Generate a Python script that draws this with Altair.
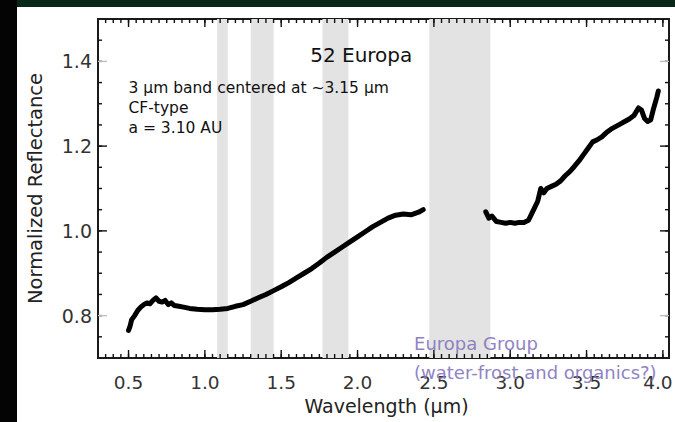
import altair as alt
import pandas as pd

# ---------------- data ----------------
seg1_w = [0.50, 0.51, 0.52, 0.54, 0.56, 0.58, 0.60, 0.62, 0.64, 0.66, 0.68, 0.70,
          0.72, 0.74, 0.76, 0.78, 0.80, 0.83, 0.86, 0.90, 0.95, 1.00, 1.05, 1.10,
          1.15, 1.20, 1.25, 1.30, 1.35, 1.40, 1.45, 1.50, 1.55, 1.60, 1.65, 1.70,
          1.75, 1.80, 1.85, 1.90, 1.95, 2.00, 2.05, 2.10, 2.15, 2.20, 2.25, 2.30,
          2.35, 2.40, 2.43]
seg1_r = [0.765, 0.775, 0.790, 0.800, 0.812, 0.820, 0.826, 0.830, 0.828, 0.836, 0.842, 0.834,
          0.832, 0.836, 0.826, 0.830, 0.824, 0.822, 0.820, 0.817, 0.815, 0.814, 0.814, 0.815,
          0.817, 0.822, 0.826, 0.834, 0.842, 0.850, 0.859, 0.868, 0.878, 0.889, 0.900, 0.911,
          0.924, 0.938, 0.950, 0.962, 0.974, 0.986, 0.998, 1.010, 1.020, 1.030, 1.037, 1.040,
          1.038, 1.044, 1.050]

seg2_w = [2.84, 2.86, 2.88, 2.91, 2.94, 2.97, 3.00, 3.03, 3.06, 3.09, 3.12, 3.14,
          3.16, 3.18, 3.20, 3.22, 3.24, 3.27, 3.30, 3.33, 3.36, 3.39, 3.42, 3.45,
          3.48, 3.51, 3.54, 3.57, 3.60, 3.63, 3.66, 3.69, 3.72, 3.75, 3.78, 3.81,
          3.84, 3.86, 3.88, 3.90, 3.92, 3.94, 3.96, 3.97]
seg2_r = [1.045, 1.030, 1.035, 1.022, 1.020, 1.018, 1.020, 1.018, 1.020, 1.020, 1.025, 1.040,
          1.055, 1.070, 1.100, 1.090, 1.100, 1.105, 1.110, 1.118, 1.130, 1.140, 1.152, 1.165,
          1.180, 1.195, 1.210, 1.215, 1.222, 1.232, 1.240, 1.246, 1.252, 1.258, 1.264, 1.272,
          1.290, 1.285, 1.265, 1.258, 1.262, 1.290, 1.315, 1.330]

band_start = [1.08, 1.30, 1.77, 2.47]
band_end = [1.15, 1.45, 1.94, 2.87]

x_major = [0.5, 1.0, 1.5, 2.0, 2.5, 3.0, 3.5, 4.0]
x_labels = ["0.5", "1.0", "1.5", "2.0", "2.5", "3.0", "3.5", "4.0"]
y_major = [0.8, 1.0, 1.2, 1.4]
y_labels = ["0.8", "1.0", "1.2", "1.4"]
x_minor = [round(0.30 + 0.05 * i, 2) for i in range(1, 75)]
y_major_dark = [1.0, 1.2]
y_major_light = [0.8, 1.4]
y_minor = [round(0.70 + 0.05 * i, 2) for i in range(1, 16)]

x_title = "Wavelength (µm)"
y_title = "Normalized Reflectance"

W, H = 571, 339
xs = alt.Scale(domain=[0.30, 4.04], nice=False, zero=False)
ys = alt.Scale(domain=[0.70, 1.50], nice=False, zero=False)
FONT = "DejaVu Sans"

spec = pd.DataFrame({
    "w": seg1_w + seg2_w,
    "r": seg1_r + seg2_r,
    "seg": ["a"] * len(seg1_w) + ["b"] * len(seg2_w),
})
bands = pd.DataFrame({"s": band_start, "e": band_end})
one = pd.DataFrame({"k": [0]})

# frame decoration (dark border of the screenshot)
top_band = alt.Chart(one).mark_rect(color="#07281a").encode(
    x=alt.value(-98), x2=alt.value(W + 6), y=alt.value(-19), y2=alt.value(-12))
left_band = alt.Chart(one).mark_rect(color="#040405").encode(
    x=alt.value(-98), x2=alt.value(-81), y=alt.value(-19), y2=alt.value(H + 64))

band_layer = alt.Chart(bands).mark_rect(color="#e3e3e3").encode(
    x=alt.X("s:Q", scale=xs, axis=None), x2="e:Q",
    y=alt.value(0), y2=alt.value(H))

line = alt.Chart(spec).mark_line(color="black", strokeWidth=5, strokeJoin="round",
                                 strokeCap="round").encode(
    x=alt.X("w:Q", scale=xs, axis=None),
    y=alt.Y("r:Q", scale=ys, axis=None),
    detail="seg:N",
)


def xt(vals, y0, y1, color="#111"):
    return alt.Chart(pd.DataFrame({"t": vals})).mark_rule(color=color, strokeWidth=1.4).encode(
        x=alt.X("t:Q", scale=xs, axis=None), y=alt.value(y0), y2=alt.value(y1))


def yt(vals, x0, x1, color="#111"):
    return alt.Chart(pd.DataFrame({"t": vals})).mark_rule(color=color, strokeWidth=1.4).encode(
        y=alt.Y("t:Q", scale=ys, axis=None), x=alt.value(x0), x2=alt.value(x1))


ticks = [
    xt(x_minor, H, H - 4), xt(x_major, H, H - 8),
    xt(x_minor, 0, 4), xt(x_major, 0, 8),
    yt(y_minor, 0, 4), yt(y_major_dark, 0, 9), yt(y_major_light, 0, 9, "#bdbdbd"),
    yt(y_minor, W, W - 4), yt(y_major_dark, W, W - 9), yt(y_major_light, W, W - 9, "#bdbdbd"),
]

# tick labels, placed through the scales
xlab_df = pd.DataFrame({"t": x_major, "l": x_labels})
xlab = alt.Chart(xlab_df.iloc[:-1]).mark_text(
    font=FONT, fontSize=18.5, color="#333", align="center", baseline="alphabetic").encode(
    x=alt.X("t:Q", scale=xs, axis=None), y=alt.value(H + 31), text="l:N")
xlab_last = alt.Chart(xlab_df.iloc[-1:]).mark_text(
    font=FONT, fontSize=18.5, color="#333", align="center", baseline="alphabetic",
    dx=-5).encode(
    x=alt.X("t:Q", scale=xs, axis=None), y=alt.value(H + 31), text="l:N")
ylab = alt.Chart(pd.DataFrame({"t": y_major, "l": y_labels})).mark_text(
    font=FONT, fontSize=19, color="#333", align="right", baseline="alphabetic", dy=7).encode(
    y=alt.Y("t:Q", scale=ys, axis=None), x=alt.value(-6), text="l:N")

# axis titles
xtit = alt.Chart(pd.DataFrame({"l": [x_title]})).mark_text(
    font=FONT, fontSize=19, color="#222", align="center", baseline="alphabetic").encode(
    x=alt.value(W / 2 + 3), y=alt.value(H + 55), text="l:N")
ytit = alt.Chart(pd.DataFrame({"l": [y_title]})).mark_text(
    font=FONT, fontSize=19.5, color="#222", align="center", baseline="alphabetic",
    angle=270).encode(
    x=alt.value(-56), y=alt.value(H / 2), text="l:N")

# annotations (positions in data units)
ann = pd.DataFrame({
    "w": [1.69, 0.50, 0.50, 0.50],
    "r": [1.398, 1.325, 1.277, 1.232],
    "t": ["52 Europa", "3 µm band centered at ~3.15 µm", "CF-type", "a = 3.10 AU"],
    "s": [20, 15.5, 15.5, 15.5],
})
ann_layer = alt.Chart(ann).mark_text(align="left", baseline="alphabetic", font=FONT,
                                     color="#111").encode(
    x=alt.X("w:Q", scale=xs, axis=None), y=alt.Y("r:Q", scale=ys, axis=None),
    text="t:N", size=alt.Size("s:Q", scale=None, legend=None))

purple = pd.DataFrame({
    "w": [2.37, 2.37],
    "r": [0.718, 0.650],
    "t": ["Europa Group", "(water-frost and organics?)"],
})
purple_layer = alt.Chart(purple).mark_text(align="left", baseline="alphabetic", font=FONT,
                                           fontSize=18, color="#8676bd", opacity=0.9).encode(
    x=alt.X("w:Q", scale=xs, axis=None), y=alt.Y("r:Q", scale=ys, axis=None), text="t:N")

chart = alt.layer(
    top_band, left_band, band_layer, line, *ticks, xlab, xlab_last, ylab, xtit, ytit,
    ann_layer, purple_layer
).properties(
    width=W, height=H,
    autosize=alt.AutoSizeParams(type="none"),
    padding={"left": 98, "top": 19, "right": 6, "bottom": 64},
    background="white",
).configure_view(stroke="#1a1a1a", strokeWidth=2)

chart.save("out.html", embed_options={"renderer": "svg", "actions": False})
